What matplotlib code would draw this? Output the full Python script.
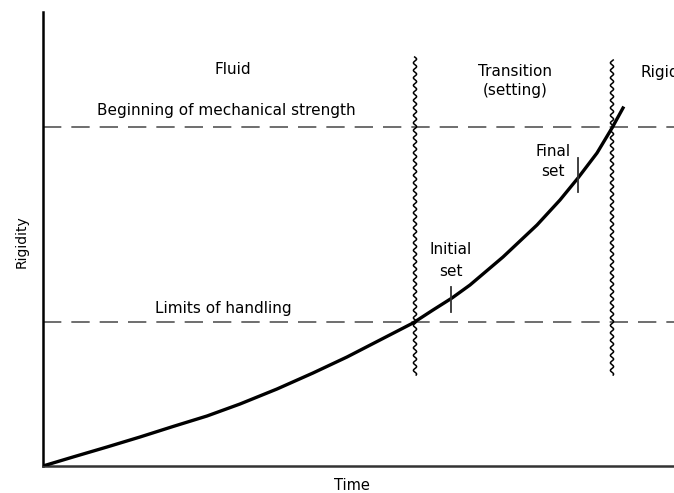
import numpy as np
import matplotlib
matplotlib.use("Agg")
import matplotlib.pyplot as plt

# rigidity curve (time, rigidity), arbitrary units
curve_t = [0, 30, 64, 97, 130, 164, 197, 234, 270, 304, 337, 370,
           390, 409, 427, 460, 494, 517, 535, 554, 569, 580]
curve_r = [0, 9, 19, 29, 39.5, 50, 62, 77, 93, 109, 126, 143,
           156, 168, 181, 209, 241, 266, 288, 313, 338, 358]

# horizontal reference levels
level_handling = 144
level_strength = 339

# wavy stage boundaries
boundary_t = [372, 569]
boundary_bottom = 91
boundary_top = [409, 406]

# set marks on the curve (time, low, high)
initial_set = (408, 154, 179)
final_set = (535, 274, 308)

fig = plt.figure(figsize=(6.74, 4.93), dpi=100)
ax = fig.add_axes([43/674, 27/493, 631/674, 454/493])
ax.set_xlim(0, 631)
ax.set_ylim(0, 454)
ax.set_xticks([])
ax.set_yticks([])
for s in ["top", "right"]:
    ax.spines[s].set_visible(False)
ax.spines["left"].set_linewidth(1.8)
ax.spines["bottom"].set_linewidth(1.8)
ax.spines["bottom"].set_color("#333333")

# dashed levels
for lv in [level_handling, level_strength]:
    ax.axhline(lv, color="#555555", lw=1.2, dashes=(11, 6), zorder=1)

# wavy boundaries
for bt, top in zip(boundary_t, boundary_top):
    yy = np.linspace(boundary_bottom, top, 600)
    xx = bt + 1.6 * np.sin(yy * 2 * np.pi / 7.5)
    ax.plot(xx, yy, color="black", lw=1.1, zorder=2)

# curve
ax.plot(curve_t, curve_r, color="black", lw=2.4, solid_joinstyle="round", zorder=3)

# set ticks
for t, y0, y1 in [initial_set, final_set]:
    ax.plot([t, t], [y0, y1], color="#333333", lw=1.3, zorder=3)

fs = 11
ax.text(190, 396, "Fluid", ha="center", va="center", fontsize=fs)
ax.text(54, 355, "Beginning of mechanical strength", ha="left", va="center", fontsize=fs)
ax.text(472, 394, "Transition", ha="center", va="center", fontsize=fs)
ax.text(472, 376, "(setting)", ha="center", va="center", fontsize=fs)
# cut by the right edge, as in the source figure
ax.text(597, 394, "Rigid", ha="left", va="center", fontsize=fs, clip_on=False)
ax.text(112, 158, "Limits of handling", ha="left", va="center", fontsize=fs)
ax.text(408, 216, "Initial", ha="center", va="center", fontsize=fs)
ax.text(408, 195, "set", ha="center", va="center", fontsize=fs)
ax.text(510, 314, "Final", ha="center", va="center", fontsize=fs)
ax.text(510, 294, "set", ha="center", va="center", fontsize=fs)

fig.text(22/674, 1 - 242/493, "Rigidity", rotation=90, ha="center", va="center", fontsize=10)
fig.text(352/674, 1 - 485/493, "Time", ha="center", va="center", fontsize=10.5)

fig.savefig("out.png", dpi=100)
